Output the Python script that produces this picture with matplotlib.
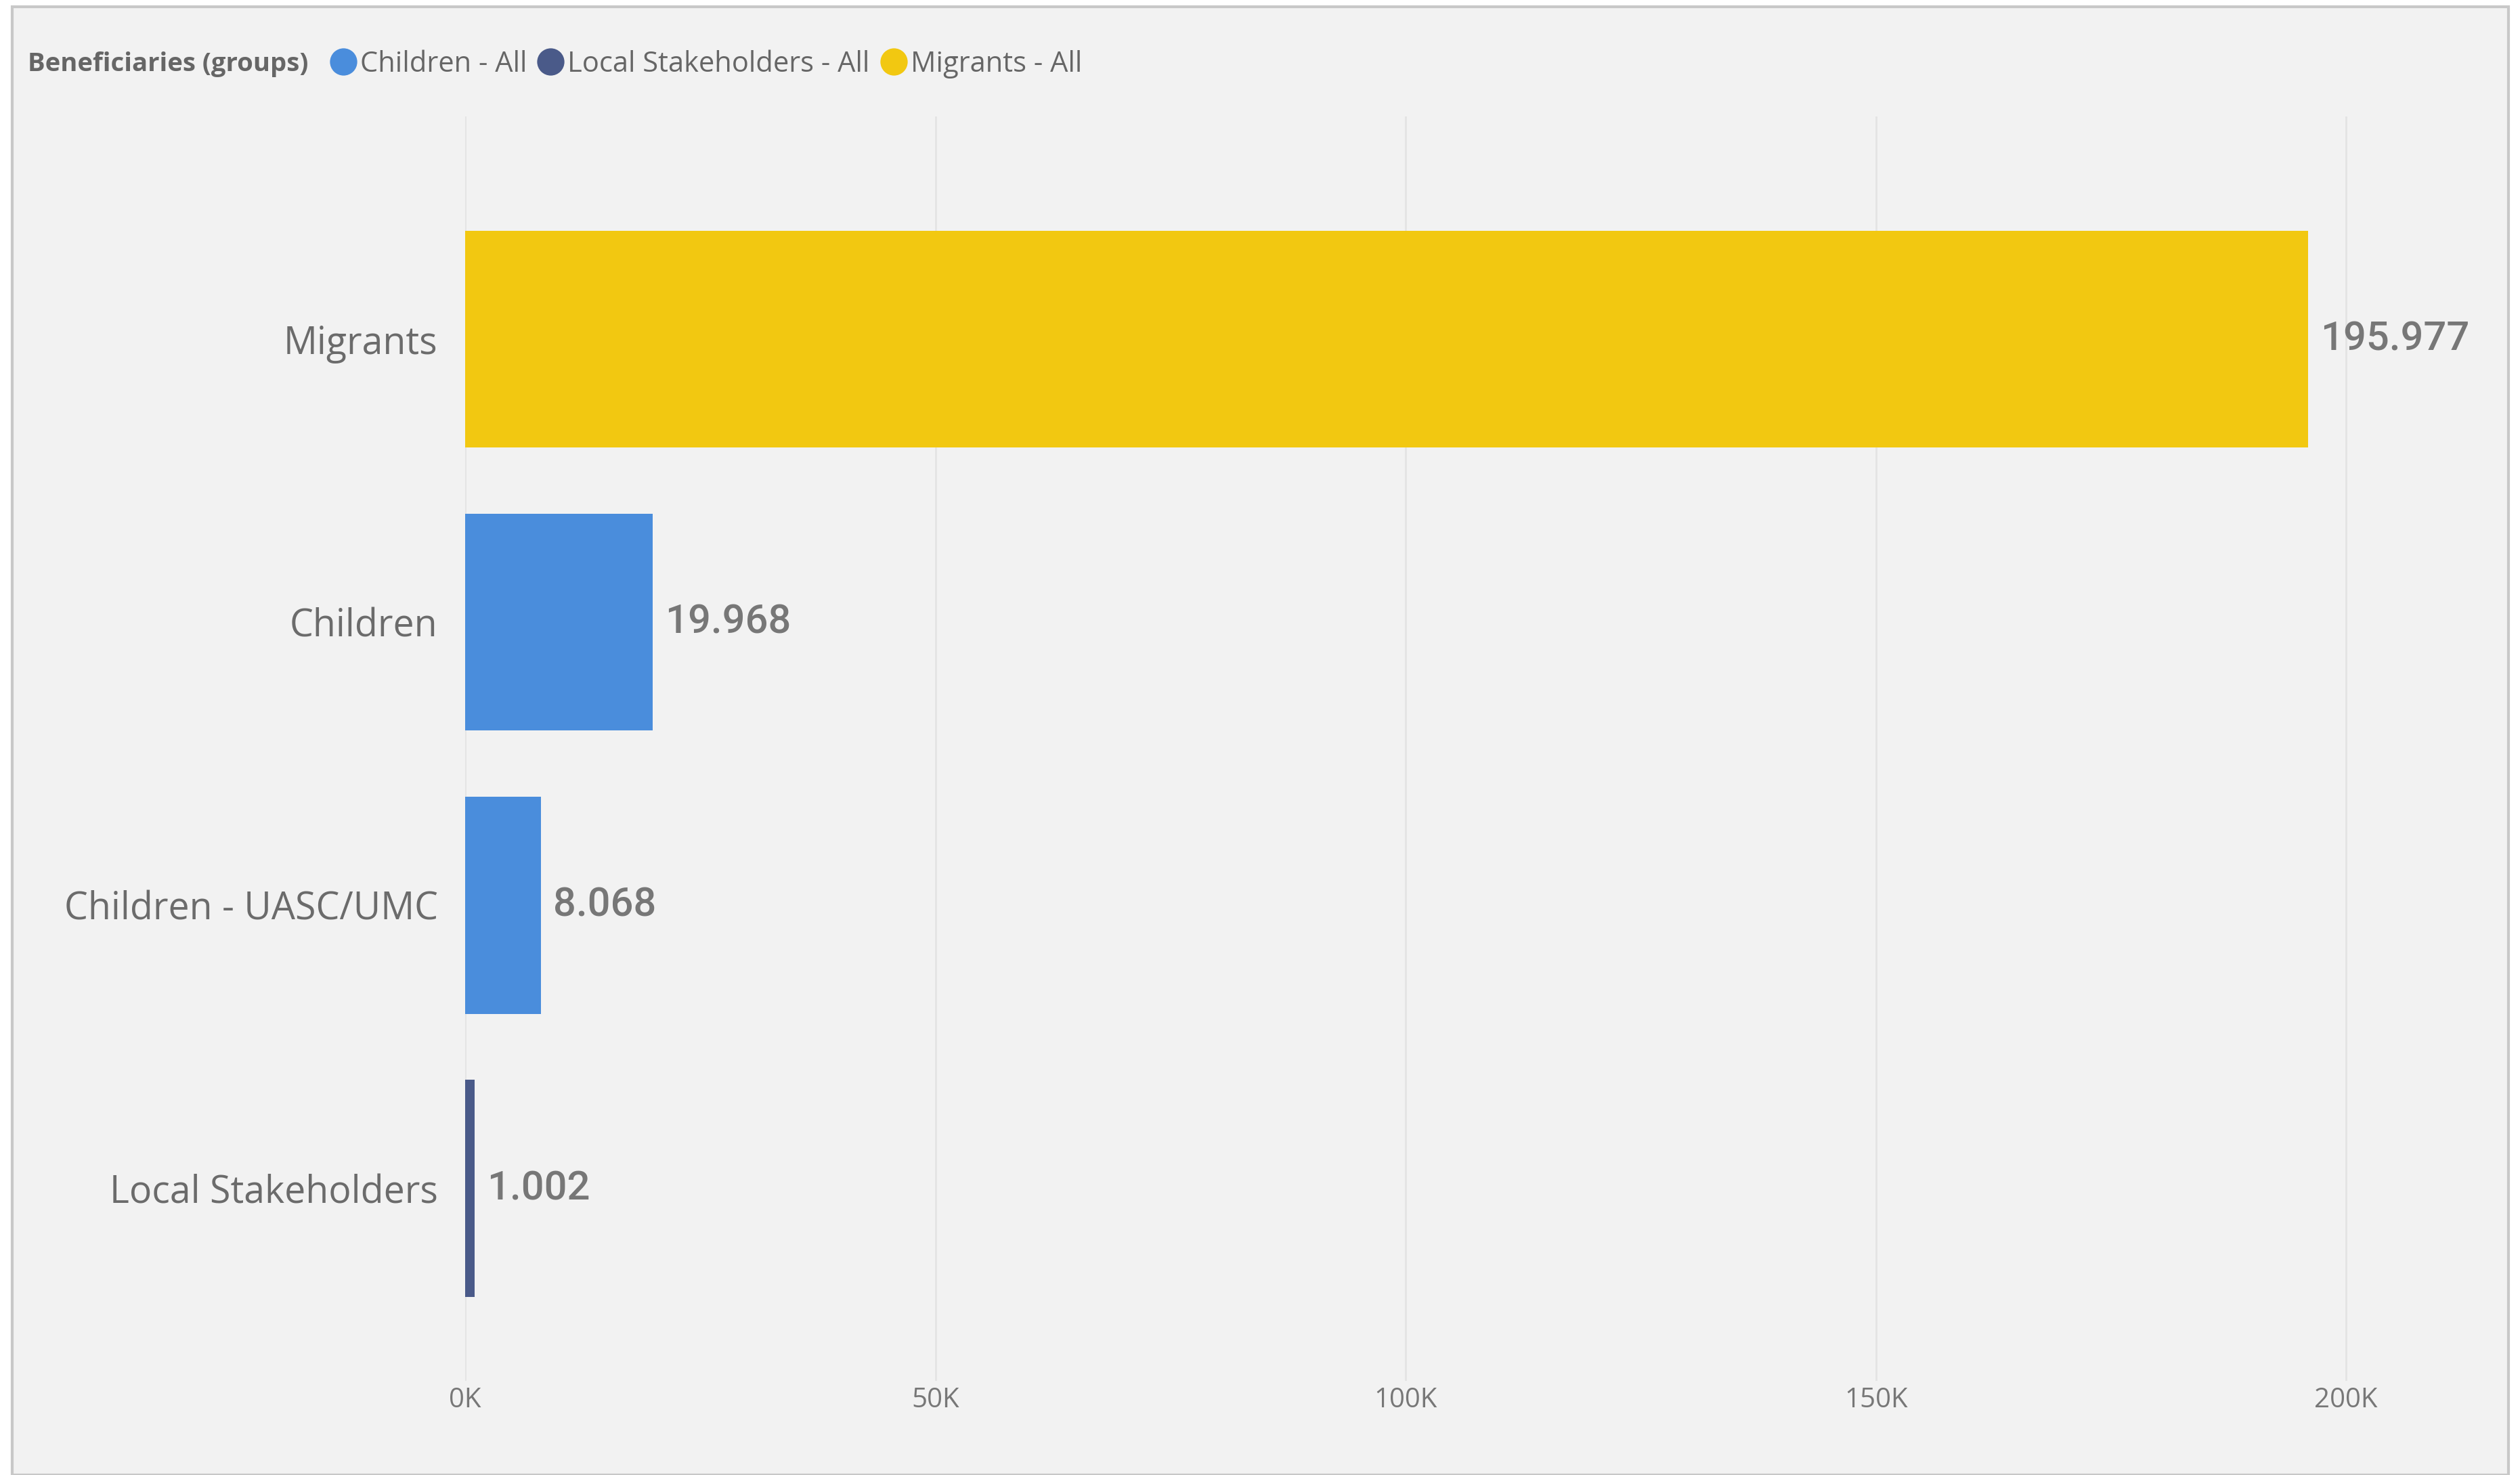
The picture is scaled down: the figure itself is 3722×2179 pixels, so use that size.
import matplotlib
matplotlib.use("Agg")
import matplotlib.pyplot as plt
from matplotlib.lines import Line2D
from matplotlib.patches import Rectangle

# data
categories = ["Migrants", "Children", "Children - UASC/UMC", "Local Stakeholders"]
values = [195977, 19968, 8068, 1002]
groups = ["Migrants - All", "Children - All", "Children - All", "Local Stakeholders - All"]
legend_groups = ["Children - All", "Local Stakeholders - All", "Migrants - All"]
group_colors = {"Children - All": "#4a8ddc", "Local Stakeholders - All": "#4a5a89",
                "Migrants - All": "#f2c811"}
xticks = [0, 50000, 100000, 150000, 200000]
xtick_labels = ["0K", "50K", "100K", "150K", "200K"]

W, H = 3723, 2179
plt.rcParams['font.family'] = ['Open Sans', 'DejaVu Sans']
fig = plt.figure(figsize=(W / 100, H / 100), dpi=100)
fig.patch.set_facecolor("white")

# panel background with border
fig.patches.append(Rectangle((18 / W, 0), (3705 - 18) / W, 1 - 10 / H, transform=fig.transFigure,
                             facecolor="#f2f2f2", edgecolor="#c8c8c8", linewidth=3, zorder=-10))

ax = fig.add_axes([687 / W, 1 - 2040 / H, (3650 - 687) / W, (2040 - 172) / H])
ax.set_facecolor("none")
y = list(range(len(categories)))
ax.barh(y, values, height=0.766, color=[group_colors[g] for g in groups], zorder=3)

ax.set_xlim(0, 213300)
ax.set_ylim(3.68, -0.787)
ax.set_xticks(xticks)
ax.set_xticklabels(xtick_labels, fontsize=29, color="#777777")
ax.set_yticks(y)
ax.set_yticklabels(categories, fontsize=40, color="#6b6b6b")
ax.tick_params(axis="x", length=0, pad=6)
ax.tick_params(axis="y", length=0, pad=29)
ax.grid(axis="x", color="#e4e4e4", linewidth=2, zorder=0)
ax.set_axisbelow(True)
for s in ax.spines.values():
    s.set_visible(False)

for yi, v in zip(y, values):
    ax.text(v + 1300, yi, f"{v:,}".replace(",", "."), va="center", ha="left",
            fontsize=43, color="#777777", family="Roboto", fontweight="medium")

# legend
fig.text(41 / W, 1 - 95 / H, "Beneficiaries (groups)", fontsize=27.5, fontweight="bold",
         color="#666666", va="center", ha="left")
handles = [Line2D([], [], marker="o", linestyle="none", markersize=29,
                  markerfacecolor=group_colors[g], markeredgecolor="none") for g in legend_groups]
fig.legend(handles, legend_groups, loc="center left", bbox_to_anchor=(490 / W, 1 - 95 / H),
           ncol=3, frameon=False, fontsize=30, labelcolor="#666666",
           handlelength=0.8, handletextpad=0.2, columnspacing=0.45, borderaxespad=0, borderpad=0)

fig.savefig("out.png", dpi=100, facecolor="white")
